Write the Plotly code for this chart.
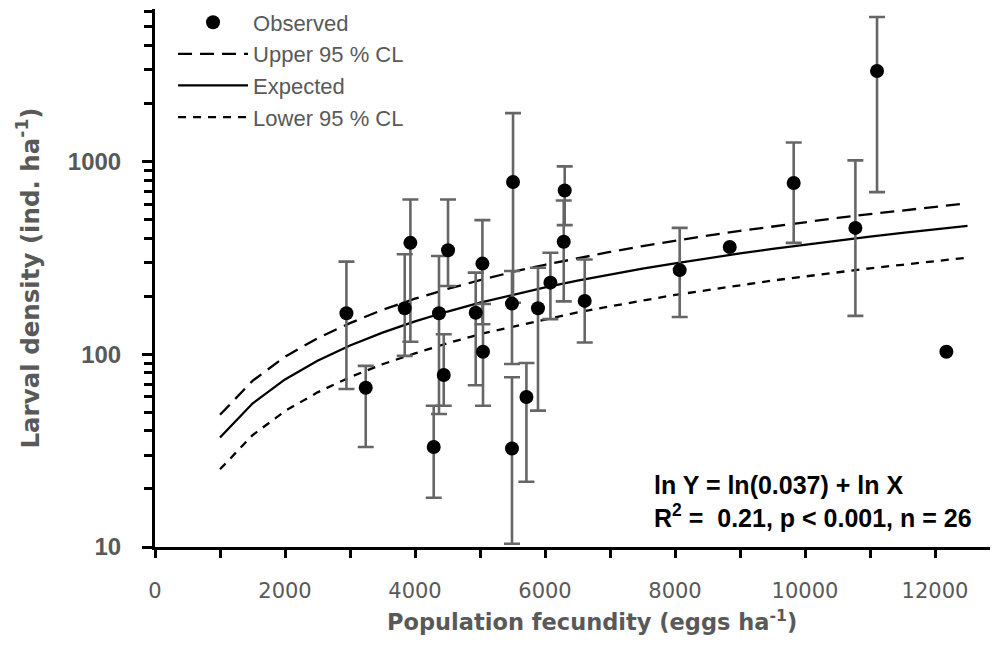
import plotly.graph_objects as go

obs_x = [2945, 3242, 3842, 3929, 4288, 4369, 4442, 4508, 4934, 5037, 5046,
         5492, 5492, 5508, 5714, 5892, 6083, 6288, 6303, 6611, 8072, 8842,
         9826, 10775, 11108, 12175]
obs_y = [163, 67, 173, 378, 33, 163, 78, 346, 164, 295, 103,
         183, 32.4, 782, 60, 173, 235, 383, 706, 189, 273, 360,
         773, 452, 2943, 103]
err_low = [66, 33, 98, 116, 18, 49, 54, 226, 69, 143, 54,
           89, 10.4, 185, 21.8, 51, 152, 188, 467, 115, 156, None,
           378, 158, 693, None]
err_high = [302, 87, 330, 634, 54, 323, 127, 634, 265, 496, 182,
            270, 76, 1780, 90, 281, 336, 627, 942, 310, 452, None,
            1253, 1012, 5610, None]

# ---- Fitted curve and confidence limits ----
curve_x = [1000, 1500, 2000, 2500, 3000, 3500, 4000, 4500, 5000, 5500, 6000,
           6500, 7000, 7500, 8000, 8500, 9000, 9500, 10000, 10500, 11000,
           11500, 12000, 12500]
expected = [37, 55.5, 74, 92.5, 111, 129.5, 148, 166.5, 185, 203.5, 222,
            240.5, 259, 277.5, 296, 314.5, 333, 351.5, 370, 388.5, 407,
            425.5, 444, 462.5]
upper_cl = [48.5, 72.7, 97, 121, 145, 170, 194, 218, 242, 267, 291,
            315, 339, 364, 388, 412, 436, 460, 485, 509, 533, 557, 582, 606]
lower_cl = [25.3, 38, 50.7, 63.4, 76, 88.7, 101, 114, 127, 139, 152,
            165, 177, 190, 203, 215, 228, 241, 253, 266, 279, 291, 304, 317]

x_major = [0, 2000, 4000, 6000, 8000, 10000, 12000]
x_major_text = ["0", "2000", "4000", "6000", "8000", "10000", "12000"]
x_minor = [1000, 3000, 5000, 7000, 9000, 11000]
y_major = [10, 100, 1000]
y_major_text = ["10", "100", "1000"]
y_minor = [20, 30, 40, 50, 60, 70, 80, 90, 200, 300, 400, 500, 600, 700,
           800, 900, 2000, 3000, 4000, 5000, 6000]

x_title = "Population fecundity (eggs ha<sup>-1</sup>)"
y_title = "Larval density (ind. ha<sup>-1</sup>)"
eq_text = ("ln Y = ln(0.037) + ln X<br>"
           "R<sup>2</sup> =\u00a0 0.21, p &lt; 0.001, n = 26")

GREY = "#595959"

# error-bar subset
ex, ey, eplus, eminus = [], [], [], []
for xv, yv, lo, hi in zip(obs_x, obs_y, err_low, err_high):
    if lo is None or hi is None:
        continue
    ex.append(xv)
    ey.append(yv)
    eplus.append(hi - yv)
    eminus.append(yv - lo)

fig = go.Figure()

fig.add_trace(go.Scatter(
    x=curve_x, y=upper_cl, mode="lines", name="Upper 95 % CL", legendrank=2,
    line=dict(color="black", width=2.3, dash="14px,8px")))
fig.add_trace(go.Scatter(
    x=curve_x, y=expected, mode="lines", name="Expected", legendrank=3,
    line=dict(color="black", width=2.3)))
fig.add_trace(go.Scatter(
    x=curve_x, y=lower_cl, mode="lines", name="Lower 95 % CL", legendrank=4,
    line=dict(color="black", width=2.3, dash="8px,7px")))

fig.add_trace(go.Scatter(
    x=ex, y=ey, mode="markers", showlegend=False, hoverinfo="skip",
    marker=dict(size=14, color="rgba(0,0,0,0)"),
    error_y=dict(type="data", symmetric=False, array=eplus, arrayminus=eminus,
                 color="#666666", thickness=2.6, width=8)))

fig.add_trace(go.Scatter(
    x=obs_x, y=obs_y, mode="markers", name="Observed", legendrank=1,
    marker=dict(size=14, color="black")))

# The page body adds an 8 px offset, so the figure is 8 px smaller.
fig.update_layout(
    template="none",
    width=990, height=645,
    margin=dict(l=147, r=0, t=1, b=106, autoexpand=False),
    paper_bgcolor="white", plot_bgcolor="white",
    showlegend=True,
    legend=dict(x=0.0214, y=1.014, xanchor="left", yanchor="top",
                bgcolor="rgba(0,0,0,0)", borderwidth=0, itemwidth=70,
                tracegroupgap=0,
                font=dict(family="Liberation Sans", size=22, color=GREY)),
    xaxis=dict(
        range=[0, 12969], showgrid=False, zeroline=False, automargin=False,
        showline=True, linecolor="black", linewidth=3,
        tickmode="array", tickvals=x_major, ticktext=x_major_text,
        ticks="outside", ticklen=8, tickwidth=2.5, tickcolor="black",
        minor=dict(tickmode="array", tickvals=x_minor, ticks="outside",
                   ticklen=8, tickwidth=2.5, tickcolor="black", showgrid=False),
        tickfont=dict(family="DejaVu Sans", size=21, color=GREY),
        ticklabelstandoff=15,
    ),
    yaxis=dict(
        type="log", range=[1, 3.7905], showgrid=False, zeroline=False,
        automargin=False,
        showline=True, linecolor="black", linewidth=3,
        tickmode="array", tickvals=y_major, ticktext=y_major_text,
        ticks="outside", ticklen=10, tickwidth=2.5, tickcolor="black",
        minor=dict(tickmode="array", tickvals=y_minor, ticks="outside",
                   ticklen=8, tickwidth=2.5, tickcolor="black", showgrid=False),
        tickfont=dict(family="Liberation Sans", size=24, color=GREY,
                      weight="bold"),
        ticklabelstandoff=16,
        title=dict(text=y_title,
                   font=dict(family="DejaVu Sans", size=24.5, color=GREY,
                             weight="bold"),
                   standoff=22),
    ),
    annotations=[
        dict(x=(592 - 155) / 843, y=(547 - 620) / 538, xref="paper",
             yref="paper", xanchor="center", yanchor="middle",
             showarrow=False, text=x_title,
             font=dict(family="DejaVu Sans", size=22.5, color=GREY,
                       weight="bold")),
        dict(x=(652 - 155) / 843, y=(547 - 501) / 538, xref="paper",
             yref="paper", xanchor="left", yanchor="middle", align="left",
             showarrow=False, text=eq_text,
             font=dict(family="Liberation Sans", size=25, color="black",
                       weight="bold")),
    ],
)

fig.write_html("out.html")
